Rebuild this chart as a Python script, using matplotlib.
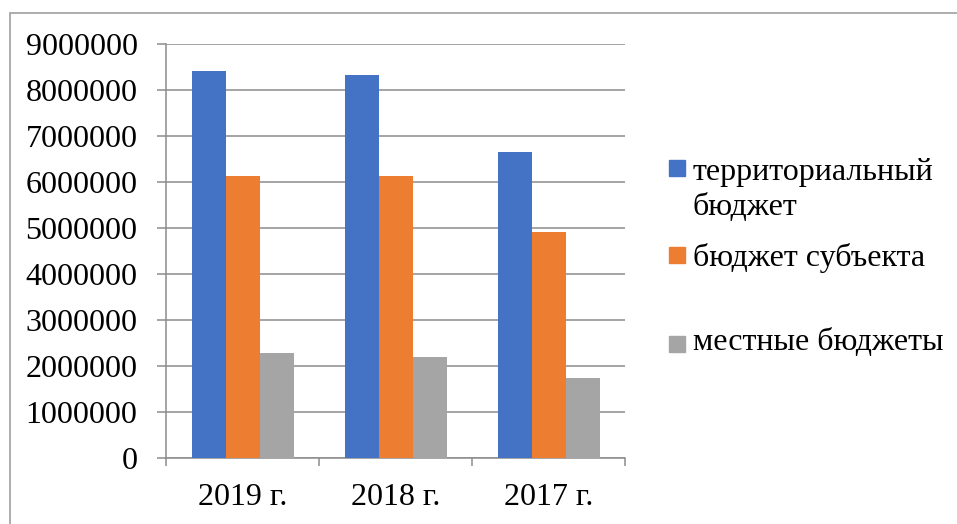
import matplotlib.pyplot as plt
import numpy as np
from matplotlib.patches import Rectangle

plt.rcParams['font.family'] = ['Liberation Serif', 'DejaVu Serif']

# данные по годам
years = ['2019 г.', '2018 г.', '2017 г.']
series_names = ['территориальный\nбюджет', 'бюджет субъекта', 'местные бюджеты']
territorial = [8410000, 8330000, 6660000]
subject = [6130000, 6130000, 4910000]
local = [2270000, 2180000, 1740000]
colors = ['#4472C4', '#ED7D31', '#A5A5A5']

values = [territorial, subject, local]
grid_col = '#8c8c8c'
fs = 23

fig = plt.figure(figsize=(9.57, 5.24), dpi=100)
ax = fig.add_axes([166 / 957, 1 - 457.7 / 524, (625 - 166) / 957, (457.7 - 44) / 524])

x = np.arange(len(years))
w = 2 / 9
for i, vals in enumerate(values):
    ax.bar(x + (i - 1) * w, vals, width=w, color=colors[i], zorder=3)

ax.set_xlim(-0.5, len(years) - 0.5)
ax.set_ylim(0, 9000000)
ax.set_yticks(np.arange(0, 9000001, 1000000))
ax.set_yticklabels([str(v) for v in range(0, 9000001, 1000000)])
ax.yaxis.grid(True, color=grid_col, linewidth=1.1, zorder=0)

# деления оси X по границам категорий, подписи по центрам
ax.set_xticks(np.arange(-0.5, len(years), 1.0))
ax.set_xticklabels([])
ax.set_xticks(x, minor=True)
ax.set_xticklabels(years, minor=True)
ax.tick_params(axis='x', which='major', length=6, color=grid_col, width=1.1, direction='out')
ax.tick_params(axis='x', which='minor', length=0, pad=18, labelsize=fs)
ax.tick_params(axis='y', length=6.5, color=grid_col, width=1.1, pad=14, labelsize=fs)

for s in ['top', 'right']:
    ax.spines[s].set_visible(False)
for s in ['left', 'bottom']:
    ax.spines[s].set_color(grid_col)
    ax.spines[s].set_linewidth(1.1)

# легенда справа
leg_x = 669 / 957
sq_w = 16 / 957
sq_h = 16 / 524
entries = [(168, 172), (255, 257), (344, 342)]
for i, (sq_y, txt_y) in enumerate(entries):
    fig.patches.append(Rectangle((leg_x, 1 - (sq_y + 8) / 524), sq_w, sq_h,
                                 transform=fig.transFigure, color=colors[i]))
    fig.text(693 / 957, 1 - (txt_y - 14) / 524, series_names[i], fontsize=fs,
             va='top', ha='left', linespacing=1.27)

# рамка
fig.patches.append(Rectangle((10 / 957, -0.2), 1.2, 1.2 - 13 / 524,
                             transform=fig.transFigure, fill=False,
                             edgecolor='#a0a0a0', linewidth=1.2))

fig.savefig('out.png', dpi=100)
